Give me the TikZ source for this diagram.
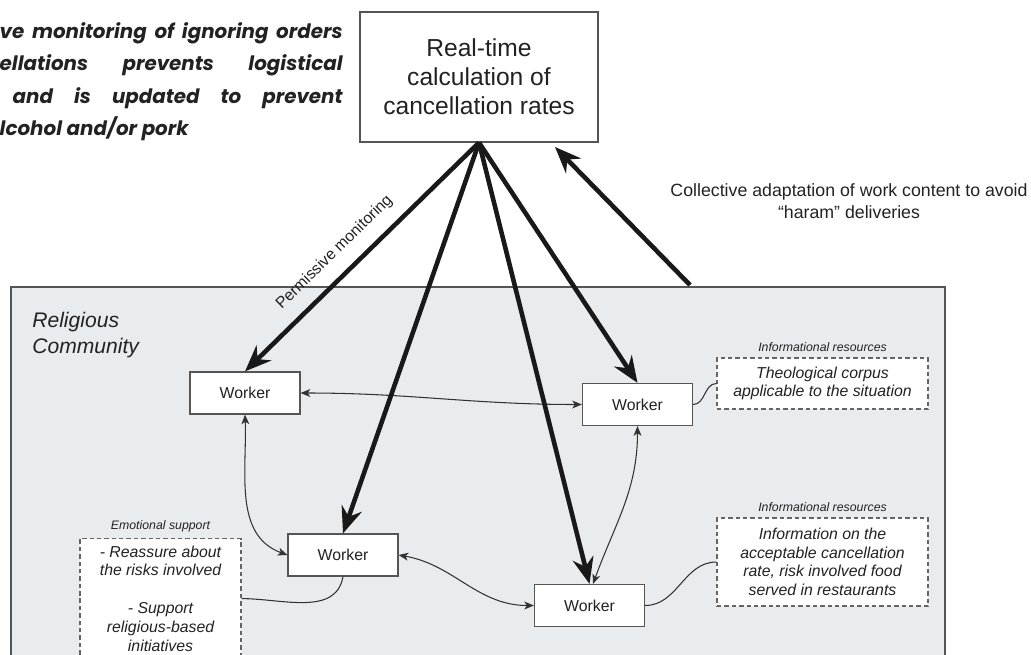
\documentclass[tikz,border=0pt]{standalone}
\usepackage{fontspec}
\setmainfont{Liberation Sans}
\newfontfamily\notefont{Poppins}
\usetikzlibrary{arrows.meta}

\tikzset{
  calcbox/.style={draw=boxgray, fill=white, line width=0.7pt, minimum width=4.76cm, minimum height=2.6cm, align=center, text=textgray, font=\fontsize{14}{16.5}\selectfont},
  worker/.style={draw=boxgray, fill=white, line width=0.7pt, minimum width=2.2cm, minimum height=0.84cm, text=textgray, font=\fontsize{9}{11}\selectfont},
  resource/.style={draw=dashgray, fill=white, line width=0.7pt, dash pattern=on 2.5pt off 1.7pt, align=center, text=textgray, font=\fontsize{9}{10.6}\selectfont\itshape},
  reslabel/.style={anchor=south, inner sep=3pt, text=textgray, font=\fontsize{7}{8}\selectfont\itshape},
  pressure/.style={draw=arrowblack, line width=2.6pt, -{Stealth[length=15pt,width=12pt,inset=5pt]}},
  support/.style={draw=linegray, line width=0.6pt, {Stealth[length=5.5pt,width=4.5pt,inset=1.5pt]}-{Stealth[length=5.5pt,width=4.5pt,inset=1.5pt]}},
  link/.style={draw=linegray, line width=0.6pt},
}

\begin{document}
\begin{tikzpicture}[x=0.02cm,y=-0.02cm]
% Colours
\definecolor{boxgray}{RGB}{85,85,85}%
\definecolor{dashgray}{RGB}{100,100,100}%
\definecolor{linegray}{RGB}{50,50,50}%
\definecolor{arrowblack}{RGB}{25,25,25}%
\definecolor{textgray}{RGB}{34,34,34}%
\definecolor{areagray}{RGB}{233,236,238}%

\useasboundingbox (0,0) rectangle (1031,655);
\clip (0,0) rectangle (1031,655);

% Religious community area
\draw[draw=boxgray, fill=areagray, line width=0.8pt] (11,287) rectangle (945,700);
\node[anchor=north west, align=left, inner sep=0pt, text=textgray, font=\fontsize{12}{14.7}\selectfont\itshape] (community) at (32,312) {Religious\\Community};

% Note on permissive monitoring
\node[anchor=north east, inner sep=0pt, align=left, text=textgray, font=\notefont\bfseries\itshape\fontsize{11.3}{18.5}\selectfont] (note) at (343,22) {%
  \makebox[6.86cm][s]{ve monitoring of ignoring orders}\\
  \makebox[6.86cm][s]{ellations prevents logistical}\\
  \hspace*{0.26cm}\makebox[6.6cm][s]{and is updated to prevent}\\
  lcohol and/or pork};

% Calculation box
\node[calcbox] (rate) at (479,77) {Real-time\\calculation of\\cancellation rates};

% Workers
\node[worker] (wA) at (245,393) {Worker};
\node[worker] (wB) at (637.5,404.5) {Worker};
\node[worker] (wC) at (343,555) {Worker};
\node[worker] (wD) at (589.5,605.5) {Worker};

% Resources
\node[resource, minimum width=4.22cm, minimum height=1.02cm] (corpus) at (822.5,383.5) {Theological corpus\\applicable to the situation};
\node[reslabel] (corpuslabel) at (corpus.north) {Informational resources};
\node[resource, minimum width=4.22cm, minimum height=1.76cm] (rateinfo) at (822.5,562) {Information on the\\acceptable cancellation\\rate, risk involved food\\served in restaurants};
\node[reslabel] (rateinfolabel) at (rateinfo.north) {Informational resources};
\node[resource, minimum width=3.22cm, minimum height=2.4cm, anchor=north] (emotion) at (160.5,538) {- Reassure about\\the risks involved\\[11pt]- Support\\religious-based\\initiatives};
\node[reslabel] (emotionlabel) at (emotion.north) {Emotional support};

% Links to resources
\draw[link] (wB.east) to[out=0,in=180] (corpus.west);
\draw[link] (wD.east) to[out=0,in=180] (rateinfo.west);
\draw[link] (wC.south) to[out=-100,in=0] (emotion.east);

% Mutual support between workers
\draw[support] (wA.east) to[out=0,in=180] (wB.west);
\draw[support] (wA.south) to[out=-88,in=160] (wC.west);
\draw[support] (wC.east) to[out=-10,in=180] (wD.west);
\draw[support] ([xshift=2pt]wD.north) to[out=70,in=-90] (wB.south);

% Monitoring from the calculation
\draw[pressure] (rate.south) -- (wA.north) node[pos=0.55, sloped, above=4pt, text=textgray, font=\fontsize{9}{10}\selectfont] (permlabel) {Permissive monitoring};
\draw[pressure] (rate.south) -- (wC.north);
\draw[pressure] (rate.south) -- (wD.north);
\draw[pressure] (rate.south) -- (wB.north);

% Collective adaptation
\coordinate (adaptfoot) at (690,285);
\coordinate (adapttip) at (555,147);
\draw[pressure] (adaptfoot) -- (adapttip);
\node[align=center, text=textgray, font=\fontsize{10.1}{12.5}\selectfont] (adaptlabel) at (849,201) {Collective adaptation of work content to avoid\\“haram” deliveries};
\end{tikzpicture}
\end{document}
